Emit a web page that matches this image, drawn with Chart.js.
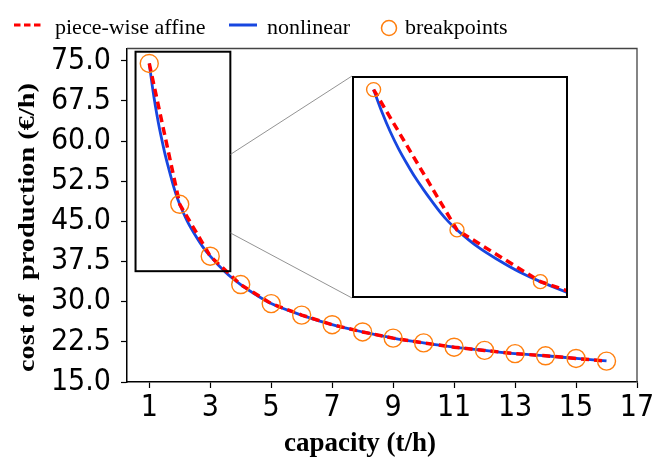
<!DOCTYPE html>
<html>
<head>
<meta charset="utf-8">
<script src="https://cdn.jsdelivr.net/npm/chart.js@4.4.1/dist/chart.umd.min.js"></script>
<style>
html, body { margin: 0; padding: 0; background: #fff; }
#wrap { position: relative; width: 657px; height: 458px; }
#inset { position: absolute; left: 352px; top: 76px; width: 212px; height: 218px; border: 2px solid #000; background: #fff; }
#inset canvas { display: block; }
</style>
</head>
<body>
<div id="wrap">
  <canvas id="mainChart" width="657" height="458"></canvas>
  <div id="inset"><canvas id="insetChart" width="212" height="218"></canvas></div>
</div>
<script>
// breakpoints of the piece-wise affine approximation
const capacity = [1, 2, 3, 4, 5, 6, 7, 8, 9, 10, 11, 12, 13, 14, 15, 16];
const breakpointCost = [74.5, 48.2, 38.5, 33.2, 29.65, 27.5, 25.7, 24.35, 23.2, 22.3, 21.5, 20.9, 20.3, 19.9, 19.4, 18.9];

// nonlinear cost curve
const nonlinearCapacity = [1, 1.1, 1.2, 1.3, 1.4, 1.5, 1.6, 1.7, 1.8, 1.9, 2, 2.25, 2.5, 2.75, 3, 3.5, 4, 4.5, 5, 6, 7, 8, 9, 10, 11, 12, 13, 14, 15, 16];
const nonlinearCost = [74.5, 70.3, 66.6, 63.4, 60.6, 58.0, 55.7, 53.55, 51.5, 49.7, 48.2, 45.0, 42.5, 40.3, 38.5, 35.5, 33.2, 31.3, 29.65, 27.5, 25.7, 24.35, 23.2, 22.3, 21.5, 20.9, 20.3, 19.9, 19.4, 18.95];

const xTicks = [1, 3, 5, 7, 9, 11, 13, 15, 17];
const yTicks = [15, 22.5, 30, 37.5, 45, 52.5, 60, 67.5, 75];

// zoomed region shown in the inset
const zoomX = [0.55, 3.66];
const zoomY = [35.7, 76.7];

const RED = '#ff0000';
const BLUE = '#1746e0';
const ORANGE = '#ff7f0e';
const tickFont = { family: "'DejaVu Sans Condensed', 'DejaVu Sans', sans-serif", size: 30 };

function makeDatasets(circleRadius) {
  return [
    {
      label: 'breakpoints',
      data: capacity.map((x, i) => ({ x: x, y: breakpointCost[i] })),
      showLine: false,
      pointStyle: 'circle',
      pointRadius: circleRadius,
      pointBorderWidth: 1.4,
      pointBorderColor: ORANGE,
      pointBackgroundColor: 'rgba(0,0,0,0)'
    },
    {
      label: 'piece-wise affine',
      data: capacity.map((x, i) => ({ x: x, y: breakpointCost[i] })),
      borderColor: RED,
      borderWidth: 3.5,
      borderDash: [8, 5],
      pointRadius: 0,
      tension: 0
    },
    {
      label: 'nonlinear',
      data: nonlinearCapacity.map((x, i) => ({ x: x, y: nonlinearCost[i] })),
      borderColor: BLUE,
      borderWidth: 2.8,
      pointRadius: 0,
      cubicInterpolationMode: 'monotone'
    }
  ];
}

// legend, frame, zoom box, connectors and axis titles
const decorations = {
  id: 'decorations',
  afterDraw(chart) {
    const ctx = chart.ctx;
    const a = chart.chartArea;
    const xs = chart.scales.x, ys = chart.scales.y;
    ctx.save();

    // top / right spines
    ctx.strokeStyle = '#444';
    ctx.lineWidth = 1.3;
    ctx.beginPath();
    ctx.moveTo(a.left, a.top);
    ctx.lineTo(a.right, a.top);
    ctx.lineTo(a.right, a.bottom);
    ctx.stroke();

    // zoom rectangle
    const rx0 = xs.getPixelForValue(zoomX[0]), rx1 = xs.getPixelForValue(zoomX[1]);
    const ry0 = ys.getPixelForValue(zoomY[1]), ry1 = ys.getPixelForValue(zoomY[0]);
    ctx.strokeStyle = '#000';
    ctx.lineWidth = 2;
    ctx.strokeRect(rx0, ry0, rx1 - rx0, ry1 - ry0);

    // connector lines to the inset
    const inset = document.getElementById('inset');
    const ix = inset.offsetLeft, iy = inset.offsetTop, ih = inset.offsetHeight;
    ctx.strokeStyle = '#777';
    ctx.lineWidth = 0.8;
    ctx.beginPath();
    ctx.moveTo(rx1, ys.getPixelForValue(57.5));
    ctx.lineTo(ix, iy);
    ctx.moveTo(rx1, ys.getPixelForValue(42.85));
    ctx.lineTo(ix, iy + ih);
    ctx.stroke();

    // legend
    ctx.lineWidth = 3;
    ctx.strokeStyle = RED;
    ctx.setLineDash([6.5, 3.5]);
    ctx.beginPath(); ctx.moveTo(14, 25); ctx.lineTo(41, 25); ctx.stroke();
    ctx.setLineDash([]);
    ctx.strokeStyle = BLUE;
    ctx.beginPath(); ctx.moveTo(229, 25); ctx.lineTo(257, 25); ctx.stroke();
    ctx.strokeStyle = ORANGE;
    ctx.lineWidth = 1.5;
    ctx.beginPath(); ctx.arc(389, 28, 7.5, 0, Math.PI * 2); ctx.stroke();

    ctx.fillStyle = '#000';
    ctx.font = "22px 'Liberation Serif', serif";
    ctx.textBaseline = 'alphabetic';
    ctx.textAlign = 'left';
    ctx.fillText('piece-wise affine', 55, 33.5);
    ctx.fillText('nonlinear', 267, 33.5);
    ctx.fillText('breakpoints', 405, 33.5);

    // axis titles
    ctx.font = "bold 27px 'Liberation Serif', serif";
    ctx.textAlign = 'center';
    ctx.fillText('capacity (t/h)', 360, 451);

    ctx.save();
    ctx.translate(34, 227.5);
    ctx.rotate(-Math.PI / 2);
    ctx.scale(1.18, 1);
    ctx.font = "bold 24px 'Liberation Serif', serif";
    ctx.fillText('cost of  production (\u20AC/h)', 0, 0);
    ctx.restore();

    ctx.restore();
  }
};

const mainCtx = document.getElementById('mainChart').getContext('2d');
const mainChart = new Chart(mainCtx, {
  type: 'line',
  data: { datasets: makeDatasets(9) },
  options: {
    responsive: false,
    animation: false,
    layout: { padding: { top: 48.5, right: 20, left: 0, bottom: 0 } },
    plugins: { legend: { display: false }, tooltip: { enabled: false } },
    scales: {
      x: {
        type: 'linear',
        min: 0.27,
        max: 17,
        afterBuildTicks: s => { s.ticks = xTicks.map(v => ({ value: v })); },
        afterFit: s => { s.height = 76; },
        grid: { drawOnChartArea: false, tickLength: 6, tickColor: '#000', tickWidth: 1.2 },
        border: { color: '#000', width: 1.5 },
        ticks: { font: tickFont, color: '#000', padding: 2, maxRotation: 0, autoSkip: false }
      },
      y: {
        type: 'linear',
        min: 15,
        max: 77.3,
        afterBuildTicks: s => { s.ticks = yTicks.map(v => ({ value: v })); },
        afterFit: s => { s.width = 127; },
        grid: { drawOnChartArea: false, tickLength: 6, tickColor: '#000', tickWidth: 1.2 },
        border: { color: '#000', width: 1.5 },
        ticks: { font: tickFont, color: '#000', padding: 10, autoSkip: false, callback: v => v.toFixed(1) }
      }
    }
  },
  plugins: [decorations]
});

const insetCtx = document.getElementById('insetChart').getContext('2d');
const insetChart = new Chart(insetCtx, {
  type: 'line',
  data: { datasets: makeDatasets(7) },
  options: {
    responsive: false,
    animation: false,
    layout: { padding: 0, autoPadding: false },
    plugins: { legend: { display: false }, tooltip: { enabled: false } },
    scales: {
      x: { type: 'linear', display: false, min: 0.765, max: 3.307 },
      y: { type: 'linear', display: false, min: 35.81, max: 76.67 }
    }
  }
});
</script>
</body>
</html>
